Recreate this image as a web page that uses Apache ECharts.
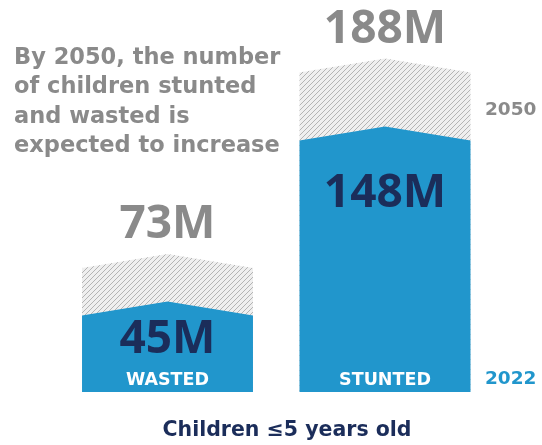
<!DOCTYPE html>
<html>
<head>
<meta charset="utf-8">
<script src="https://cdn.jsdelivr.net/npm/echarts@6/dist/echarts.min.js"></script>
<style>
html,body{margin:0;padding:0;background:#fff;}
#chart{width:542px;height:445px;}
</style>
</head>
<body>
<div id="chart"></div>
<script>
// ---- data ----
const categories = ['WASTED', 'STUNTED'];
const values2022 = [45, 148];
const values2050 = [73, 188];
const valueLabels2022 = ['45M', '148M'];
const valueLabels2050 = ['73M', '188M'];
const yearLabels = ['2022', '2050'];
const headline = ['By 2050, the number', 'of children stunted', 'and wasted is', 'expected to increase'];
const footer = 'Children \u22645 years old';

// ---- layout / style ----
const FONT = "'Open Sans', sans-serif";
const WIDE = "'DejaVu Sans', sans-serif";
const BLUE = '#2196cc';
const NAVY = '#1b2d5a';
const GREY = '#8a8a8a';
const innerLabelOffset = [24, 53];
const ROOF = 14;

function makeHatch() {
  const s = 5;
  const c = document.createElement('canvas');
  c.width = s; c.height = s;
  const g = c.getContext('2d');
  g.fillStyle = '#efefef';
  g.fillRect(0, 0, s, s);
  g.strokeStyle = '#b4b4b4';
  g.lineWidth = 1;
  g.beginPath();
  g.moveTo(0, s); g.lineTo(s, 0);
  g.moveTo(-1, 1); g.lineTo(1, -1);
  g.moveTo(s - 1, s + 1); g.lineTo(s + 1, s - 1);
  g.stroke();
  return c;
}
const hatch = makeHatch();

const chart = echarts.init(document.getElementById('chart'), null, {renderer: 'canvas'});

const option = {
  animation: false,
  backgroundColor: '#fff',
  grid: {left: 58.75, right: 48.25, top: 52, bottom: 53},
  xAxis: {type: 'category', data: categories, show: false},
  yAxis: {type: 'value', min: 0, max: 200, show: false},
  series: [{
    type: 'custom',
    clip: false,
    data: categories.map((c, i) => [i, values2022[i], values2050[i]]),
    encode: {x: 0, y: [1, 2]},
    renderItem: function (params, api) {
      const i = params.dataIndex;
      const p0 = api.coord([i, 0]);
      const x = p0[0], base = p0[1];
      const band = api.size([1, 0])[0];
      const w = band * 0.786;
      const y50 = api.coord([i, api.value(2)])[1];
      const y22 = api.coord([i, api.value(1)])[1];
      const roof = (yTop) => [[x - w / 2, base], [x - w / 2, yTop], [x, yTop - ROOF], [x + w / 2, yTop], [x + w / 2, base]];
      return {
        type: 'group',
        children: [
          {type: 'polygon', shape: {points: roof(y50)}, style: {fill: {image: hatch, repeat: 'repeat'}}},
          {type: 'polygon', shape: {points: roof(y22)}, style: {fill: BLUE}},
          {type: 'text', style: {text: valueLabels2050[i], x: x, y: y50 - 43, align: 'center', verticalAlign: 'middle',
            fill: GREY, fontSize: 46, fontWeight: 'bold', fontFamily: FONT}},
          {type: 'text', style: {text: valueLabels2022[i], x: x, y: y22 + innerLabelOffset[i], align: 'center', verticalAlign: 'middle',
            fill: NAVY, fontSize: 46, fontWeight: 'bold', fontFamily: FONT}},
          {type: 'text', style: {text: categories[i], x: x, y: base - 12, align: 'center', verticalAlign: 'middle',
            fill: '#fff', fontSize: 17.5, fontWeight: 'bold', fontFamily: WIDE}}
        ]
      };
    }
  }],
  graphic: [
    {type: 'text', left: 485, top: 370, style: {text: yearLabels[0], fill: BLUE, fontSize: 18.5, fontWeight: 'bold', fontFamily: WIDE}},
    {type: 'text', left: 485, top: 101, style: {text: yearLabels[1], fill: GREY, fontSize: 18.5, fontWeight: 'bold', fontFamily: WIDE}},
    {type: 'text', left: 14, top: 43, style: {text: headline.join('\n'), fill: GREY, fontSize: 22.5, lineHeight: 29.5, fontWeight: 'bold', fontFamily: WIDE}},
    {type: 'text', x: 287, y: 431, style: {text: footer, fill: NAVY, fontSize: 20.5, fontWeight: 'bold', fontFamily: WIDE, align: 'center', verticalAlign: 'middle'}}
  ]
};
chart.setOption(option);
</script>
</body>
</html>
